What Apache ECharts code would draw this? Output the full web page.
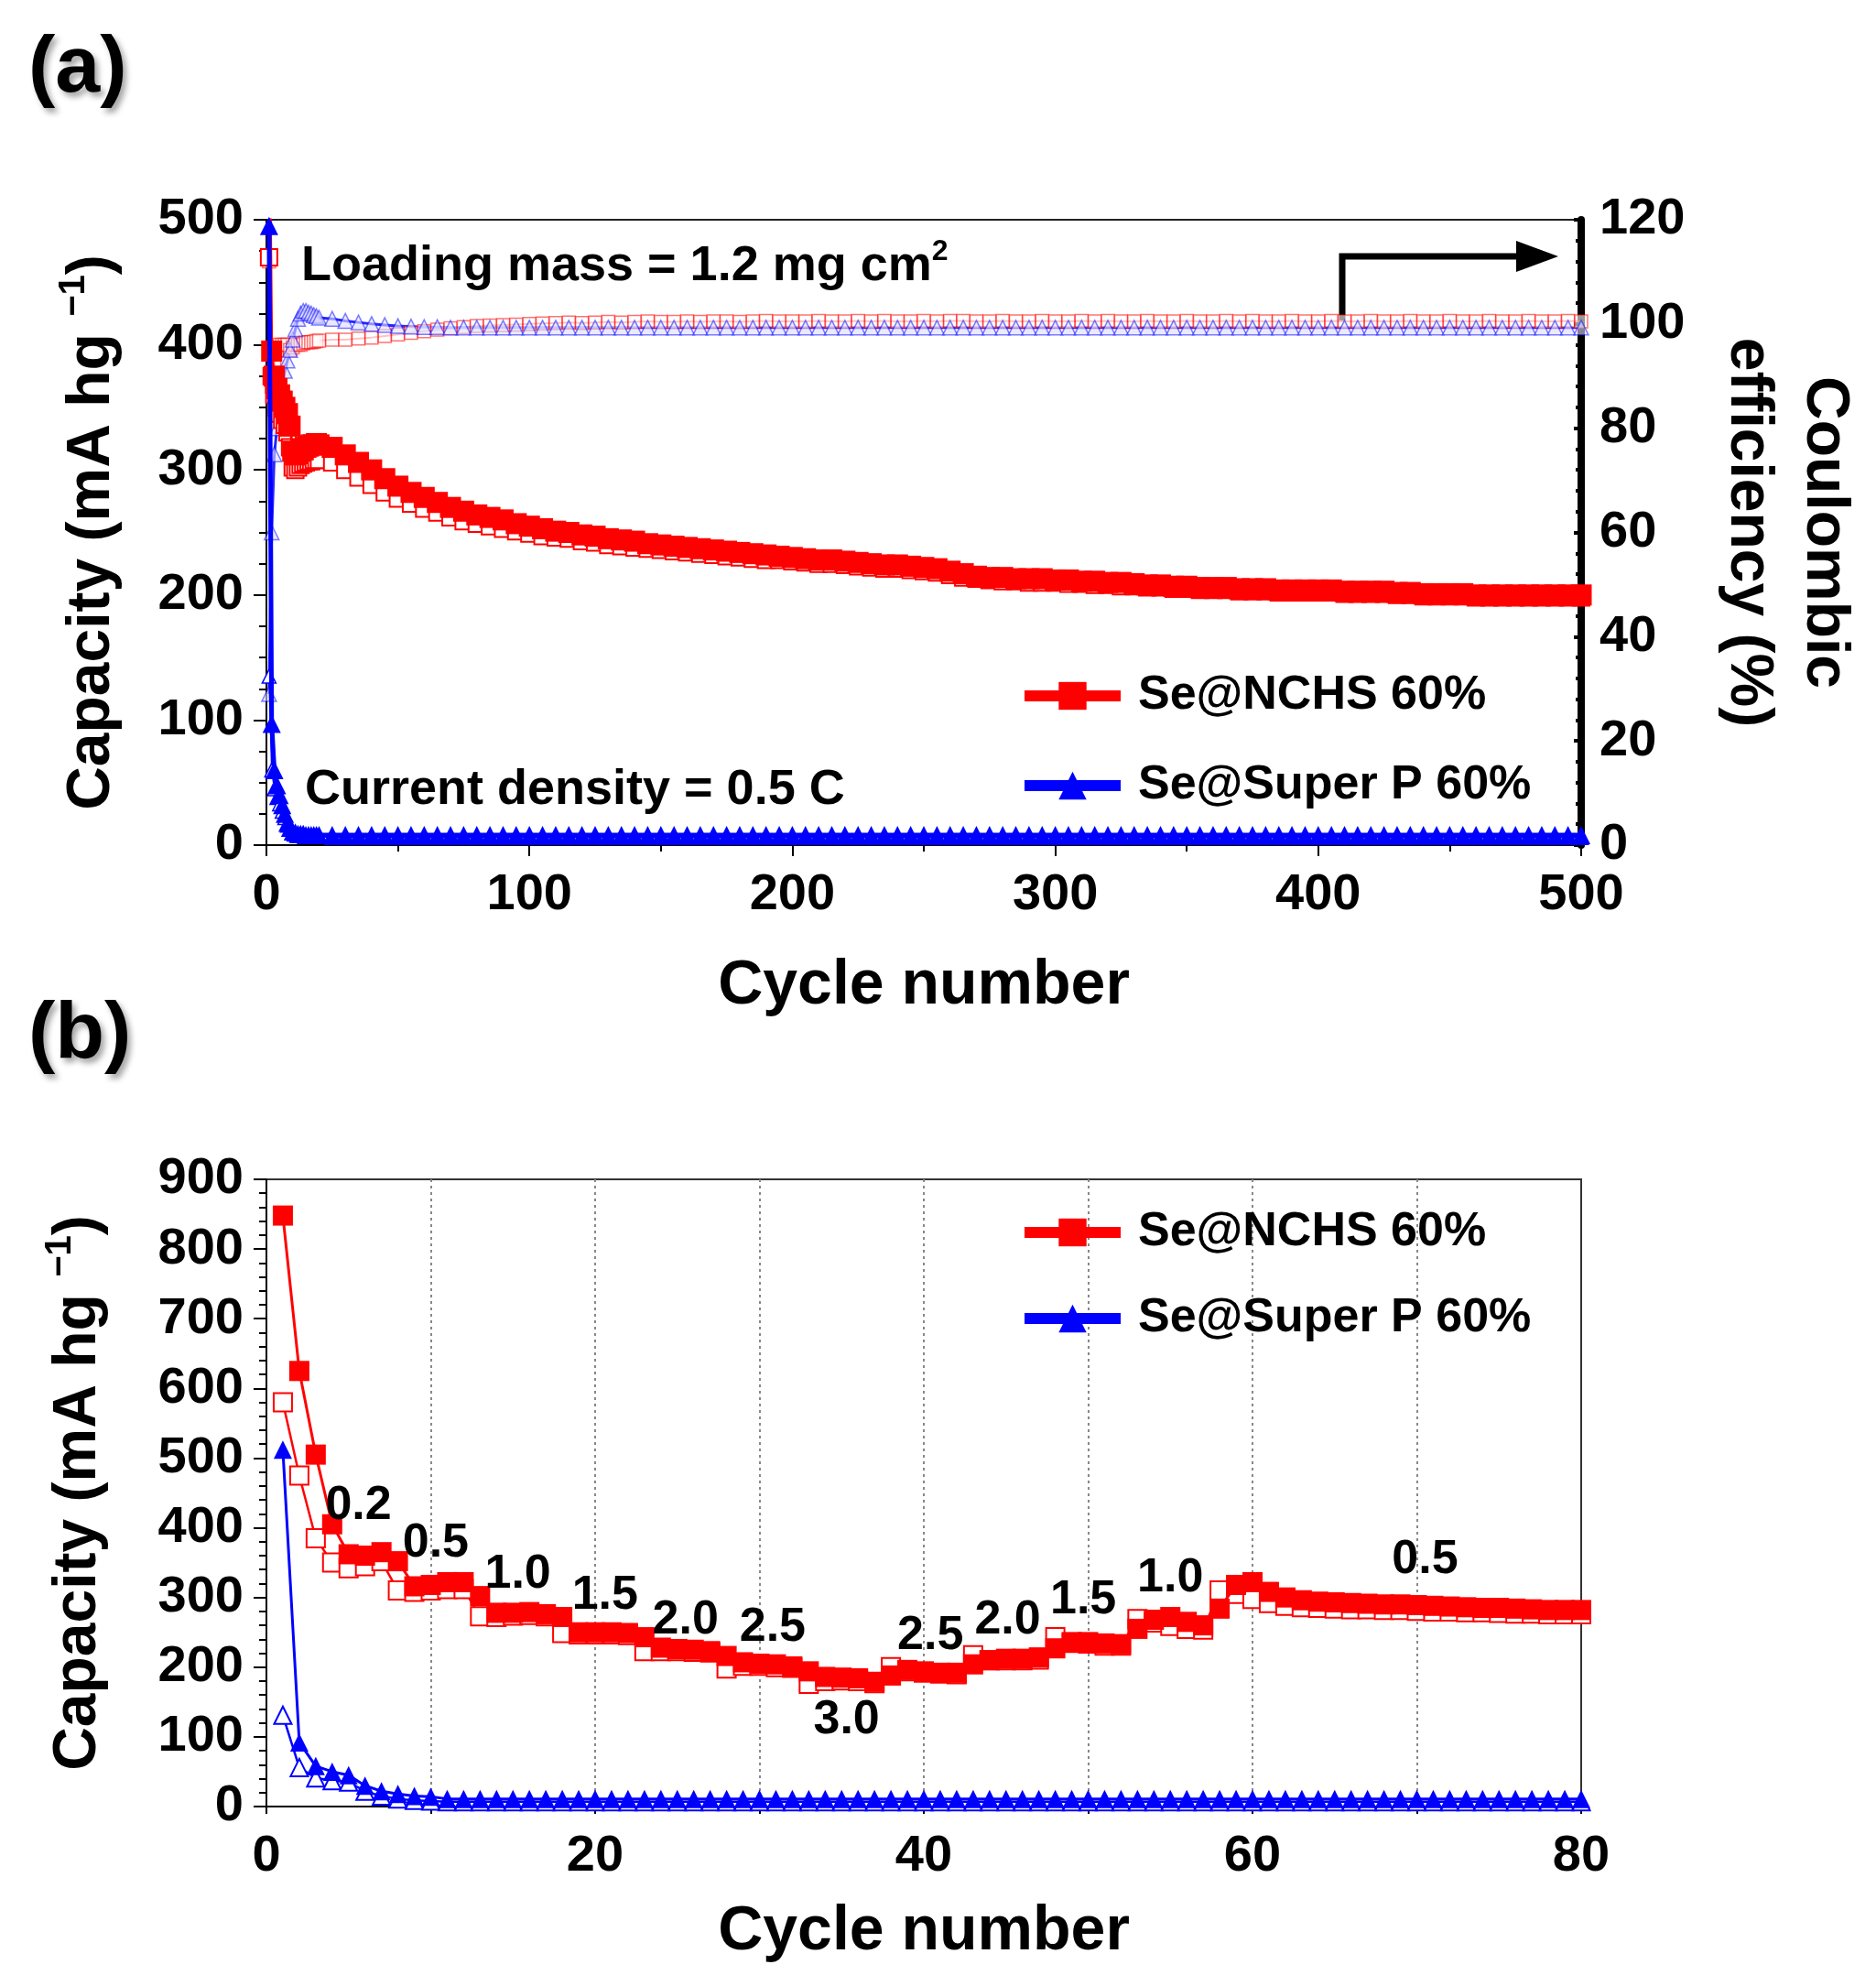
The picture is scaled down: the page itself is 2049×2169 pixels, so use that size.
<!DOCTYPE html>
<html>
<head>
<meta charset="utf-8">
<script src="https://cdn.jsdelivr.net/npm/echarts@6/dist/echarts.min.js"></script>
<style>
  html, body { margin: 0; padding: 0; background: #fff; }
  #container { width: 2049px; height: 2169px; }
</style>
</head>
<body>
<div id="container"></div>
<script>
// ---- panel (a): long cycling, 0.5 C ----
var cyclesA = [1,2,3,4,5,6,7,8,9,10,11,12,13,14,15,16,17,18,19,20,
  25,30,35,40,45,50,55,60,65,70,75,80,85,90,95,100,
  105,110,115,120,125,130,135,140,145,150,
  155,160,165,170,175,180,185,190,195,200,
  205,210,215,220,225,230,235,240,245,250,
  255,260,265,270,275,280,285,290,295,300,
  305,310,315,320,325,330,335,340,345,350,
  355,360,365,370,375,380,385,390,395,400,
  405,410,415,420,425,430,435,440,445,450,
  455,460,465,470,475,480,485,490,495,500];

var redDisA = [620,395,375,365,360,355,350,345,335,315,312,313,315,316,318,319,320,320,321,320,
  318,312,306,300,293,287,282,278,274,270,267,264,262,260,257,255,
  253,251,250,248,247,245,244,243,241,240,
  239,238,237,236,235,234,233,232,231,230,
  229,228,228,227,226,225,224,224,223,222,
  221,219,217,215,214,214,213,213,213,212,
  212,211,211,210,210,209,208,208,207,207,
  206,206,206,205,205,205,204,204,204,204,
  204,203,203,203,203,202,202,201,201,201,
  201,200,200,200,200,200,200,200,200,200];

var redChgA = [470,375,360,350,345,340,336,330,318,302,300,302,304,305,306,307,307,308,308,308,
  306,300,294,288,282,277,273,269,266,262,259,257,255,253,251,249,
  247,246,245,243,242,240,239,238,237,236,
  235,234,233,232,231,230,229,228,228,227,
  226,225,225,224,223,222,221,221,220,219,
  218,216,214,213,212,211,211,210,210,210,
  209,209,208,208,207,207,206,206,205,205,
  204,204,204,203,203,203,202,202,202,202,
  202,201,201,201,201,200,200,199,199,199,
  199,198,198,198,198,198,198,198,198,198];

var blueDisA = [495,97,60,48,40,32,25,18,14,11,10,9,9,9,8,8,8,8,8,8,
  8,8,8,8,8,8,8,8,8,8,8,8,8,8,8,8,
  8,8,8,8,8,8,8,8,8,8,
  8,8,8,8,8,8,8,8,8,8,
  8,8,8,8,8,8,8,8,8,8,
  8,8,8,8,8,8,8,8,8,8,
  8,8,8,8,8,8,8,8,8,8,
  8,8,8,8,8,8,8,8,8,8,
  8,8,8,8,8,8,8,8,8,8,
  8,8,8,8,8,8,8,8,8,8];

var blueChgA = [135,60,45,38,33,27,22,16,13,10,9,8,8,8,7,7,7,7,7,7,
  6,6,6,6,6,6,6,6,6,6,6,6,6,6,6,6,
  6,6,6,6,6,6,6,6,6,6,
  6,6,6,6,6,6,6,6,6,6,
  6,6,6,6,6,6,6,6,6,6,
  6,6,6,6,6,6,6,6,6,6,
  6,6,6,6,6,6,6,6,6,6,
  6,6,6,6,6,6,6,6,6,6,
  6,6,6,6,6,6,6,6,6,6,
  6,6,6,6,6,6,6,6,6,6];

var redCEA = [112,88,92,95,96,96,96,96,95,95.5,96,96,96,96.3,96.5,96.5,96.5,96.6,96.7,96.8,
  97,97,97.2,97.4,97.7,98,98.3,98.6,98.9,99.2,99.4,99.6,99.7,99.8,99.9,100,
  100.1,100.2,100.3,100.2,100.3,100.4,100.3,100.4,100.5,100.4,
  100.4,100.5,100.4,100.5,100.5,100.4,100.5,100.6,100.5,100.5,
  100.5,100.6,100.5,100.5,100.6,100.5,100.6,100.5,100.5,100.6,
  100.5,100.6,100.6,100.5,100.5,100.6,100.5,100.5,100.6,100.5,
  100.5,100.6,100.5,100.6,100.5,100.5,100.6,100.5,100.5,100.6,
  100.5,100.5,100.6,100.5,100.6,100.5,100.5,100.6,100.5,100.5,
  100.6,100.5,100.5,100.6,100.5,100.5,100.6,100.5,100.5,100.6,
  100.5,100.5,100.6,100.5,100.5,100.6,100.5,100.5,100.6,100.5];

var blueCEA = [29,60,75,80,84,88,91,93,95,97,99,101,102,102.5,102.5,102.2,102,101.7,101.5,101.2,
  101,100.6,100.3,100,99.8,99.6,99.5,99.4,99.4,99.3,99.3,99.3,99.3,99.3,99.3,99.3,
  99.3,99.3,99.3,99.3,99.3,99.3,99.3,99.3,99.3,99.3,
  99.3,99.3,99.3,99.3,99.3,99.3,99.3,99.3,99.3,99.3,
  99.3,99.3,99.3,99.3,99.3,99.3,99.3,99.3,99.3,99.3,
  99.3,99.3,99.3,99.3,99.3,99.3,99.3,99.3,99.3,99.3,
  99.3,99.3,99.3,99.3,99.3,99.3,99.3,99.3,99.3,99.3,
  99.3,99.3,99.3,99.3,99.3,99.3,99.3,99.3,99.3,99.3,
  99.3,99.3,99.3,99.3,99.3,99.3,99.3,99.3,99.3,99.3,
  99.3,99.3,99.3,99.3,99.3,99.3,99.3,99.3,99.3,99.3];

// ---- panel (b): rate capability ----
var cyclesB = [1,2,3,4,5,6,7,8,9,10,11,12,13,14,15,16,17,18,19,20,
  21,22,23,24,25,26,27,28,29,30,31,32,33,34,35,36,37,38,39,40,
  41,42,43,44,45,46,47,48,49,50,51,52,53,54,55,56,57,58,59,60,
  61,62,63,64,65,66,67,68,69,70,71,72,73,74,75,76,77,78,79,80];

var redDisB = [848,625,505,405,362,360,365,352,316,318,322,322,302,278,278,279,276,272,250,250,
  250,249,243,228,226,225,223,216,207,205,204,201,194,186,185,184,179,188,196,194,
  192,192,204,210,212,212,214,227,236,236,234,233,255,268,272,265,260,284,318,322,
  308,300,296,294,293,292,291,290,290,289,288,287,286,285,285,284,283,282,282,282];

var redChgB = [580,475,385,350,342,345,352,310,308,310,312,312,273,272,274,275,273,249,247,247,
  247,246,223,223,223,222,221,198,202,202,200,199,176,180,181,180,177,200,194,192,
  191,190,217,210,210,210,211,243,235,234,231,231,269,264,259,255,254,310,305,298,
  292,288,286,285,284,283,283,282,282,281,280,280,279,279,278,277,277,276,276,276];

var blueDisB = [512,92,58,50,45,30,22,18,15,14,11,11,11,11,11,11,11,11,11,11,
  11,11,11,11,11,11,11,11,11,11,11,11,11,11,11,11,11,11,11,11,
  11,11,11,11,11,11,11,11,11,11,11,11,11,11,11,11,11,11,11,11,
  11,11,11,11,11,11,11,11,11,11,11,11,11,11,11,11,11,11,11,11];

var blueChgB = [131,56,41,37,35,22,15,11,9,8,7,7,7,7,7,7,7,7,7,7,
  7,7,7,7,7,7,7,7,7,7,7,7,7,7,7,7,7,7,7,7,
  7,7,7,7,7,7,7,7,7,7,7,7,7,7,7,7,7,7,7,7,
  7,7,7,7,7,7,7,7,7,7,7,7,7,7,7,7,7,7,7,7];

// C-rate annotations: [cycle, capacity, text]
var rateLabels = [
  [5.6, 432, '0.2'], [10.3, 378, '0.5'], [15.3, 333, '1.0'], [20.6, 303, '1.5'],
  [25.5, 267, '2.0'], [30.8, 257, '2.5'], [35.3, 124, '3.0'], [40.4, 245, '2.5'],
  [45.1, 267, '2.0'], [49.7, 296, '1.5'], [55.0, 328, '1.0'], [70.5, 354, '0.5']
];

var NCHS = 'Se@NCHS 60%';
var SUPERP = 'Se@Super P 60%';
var FONT = '"Liberation Sans", Arial, Helvetica, sans-serif';
var RED = '#ff0000';
var BLUE = '#0000ff';

function pairs(xs, ys) {
  return xs.map(function (x, i) { return [x, ys[i]]; });
}

function tickLabel(extra) {
  var s = { color: '#000', fontSize: 56, fontWeight: 'bold', fontFamily: FONT };
  for (var k in extra) s[k] = extra[k];
  return s;
}

var capName = '{a|Capacity (mA hg }{s|\u22121}{a|)}';
var capRich = {
  a: { fontSize: 66, fontWeight: 'bold', fontFamily: FONT, color: '#000', lineHeight: 80 },
  s: { fontSize: 40, fontWeight: 'bold', fontFamily: FONT, color: '#000', verticalAlign: 'top', lineHeight: 80 }
};

var dom = document.getElementById('container');
var myChart = echarts.init(dom, null, { renderer: 'canvas' });

var legendText = { fontSize: 52, fontWeight: 'bold', fontFamily: FONT, color: '#000', lineHeight: 56, padding: [0, 0, 0, 14] };

var option = {
  backgroundColor: '#ffffff',
  animation: false,
  textStyle: { fontFamily: FONT },
  grid: [
    { left: 291, top: 240, width: 1436, height: 683, show: true, borderColor: '#222', borderWidth: 2,
      containLabel: false, outerBoundsMode: 'none' },
    { left: 291, top: 1288, width: 1436, height: 685, show: true, borderColor: '#333', borderWidth: 2,
      containLabel: false, outerBoundsMode: 'none' }
  ],
  xAxis: [
    {
      gridIndex: 0, type: 'value', min: 0, max: 500, interval: 100,
      name: 'Cycle number', nameLocation: 'middle', nameGap: 120,
      nameTextStyle: { fontSize: 68, fontWeight: 'bold', fontFamily: FONT, color: '#000' },
      axisLine: { show: true, onZero: false, lineStyle: { color: '#000', width: 2 } },
      axisTick: { show: true, length: 12, lineStyle: { color: '#000', width: 2 } },
      minorTick: { show: true, splitNumber: 2, length: 7, lineStyle: { color: '#000', width: 2 } },
      axisLabel: tickLabel({ margin: 27 }),
      splitLine: { show: false }
    },
    {
      gridIndex: 1, type: 'value', min: 0, max: 80, interval: 10,
      name: 'Cycle number', nameLocation: 'middle', nameGap: 103,
      nameTextStyle: { fontSize: 68, fontWeight: 'bold', fontFamily: FONT, color: '#000' },
      axisLine: { show: true, onZero: false, lineStyle: { color: '#000', width: 2 } },
      axisTick: { show: true, length: 8, lineStyle: { color: '#000', width: 2 } },
      axisLabel: tickLabel({ margin: 27, formatter: function (v) { return v % 20 === 0 ? v : ''; } }),
      splitLine: { show: true, showMinLine: false, showMaxLine: false,
        lineStyle: { color: '#888', width: 2, type: [3, 4] } }
    }
  ],
  yAxis: [
    {
      gridIndex: 0, type: 'value', min: 0, max: 500, interval: 100,
      name: capName, nameLocation: 'middle', nameRotate: 90, nameGap: 150,
      nameTextStyle: { rich: capRich },
      axisLine: { show: true, onZero: false, lineStyle: { color: '#000', width: 2 } },
      axisTick: { show: true, length: 14, lineStyle: { color: '#000', width: 2 } },
      minorTick: { show: true, splitNumber: 4, length: 8, lineStyle: { color: '#000', width: 2 } },
      axisLabel: tickLabel({ margin: 25 }),
      splitLine: { show: false }
    },
    {
      gridIndex: 0, type: 'value', position: 'right', min: 0, max: 120, interval: 20,
      name: 'Coulombic\nefficiency (%)', nameLocation: 'middle', nameRotate: -90, nameGap: 141,
      nameTextStyle: { fontSize: 66, fontWeight: 'bold', fontFamily: FONT, color: '#000', lineHeight: 83, align: 'center' },
      axisLine: { show: true, onZero: false, lineStyle: { color: '#000', width: 8 } },
      axisTick: { show: true, inside: true, length: 8, lineStyle: { color: '#000', width: 4 } },
      minorTick: { show: true, splitNumber: 5, length: 6, lineStyle: { color: '#000', width: 4 } },
      axisLabel: tickLabel({ margin: 20 }),
      splitLine: { show: false }
    },
    {
      gridIndex: 1, type: 'value', min: 0, max: 900, interval: 100,
      name: capName, nameLocation: 'middle', nameRotate: 90, nameGap: 165,
      nameTextStyle: { rich: capRich },
      axisLine: { show: true, onZero: false, lineStyle: { color: '#000', width: 2 } },
      axisTick: { show: true, length: 14, lineStyle: { color: '#000', width: 2 } },
      minorTick: { show: true, splitNumber: 5, length: 8, lineStyle: { color: '#000', width: 2 } },
      axisLabel: tickLabel({ margin: 25 }),
      splitLine: { show: false }
    }
  ],
  legend: [
    {
      data: [NCHS, SUPERP], orient: 'vertical', left: 1108, top: 727,
      itemWidth: 105, itemHeight: 38, itemGap: 42,
      lineStyle: { width: 12 },
      textStyle: legendText,
      selectedMode: false
    },
    {
      data: [NCHS, SUPERP], orient: 'vertical', left: 1108, top: 1313,
      itemWidth: 105, itemHeight: 38, itemGap: 38,
      lineStyle: { width: 12 },
      textStyle: legendText,
      selectedMode: false
    }
  ],
  graphic: [
    { type: 'text', left: 31, top: 32,
      style: { text: '(a)', fill: '#000', font: 'bold 88px ' + FONT,
        textShadowColor: 'rgba(0,0,0,0.35)', textShadowBlur: 6, textShadowOffsetX: 4, textShadowOffsetY: 5 } },
    { type: 'text', left: 31, top: 1087,
      style: { text: '(b)', fill: '#000', font: 'bold 88px ' + FONT,
        textShadowColor: 'rgba(0,0,0,0.35)', textShadowBlur: 6, textShadowOffsetX: 4, textShadowOffsetY: 5 } },
    { type: 'text', left: 329, top: 259,
      style: { text: '{n|Loading mass = 1.2 mg cm}{s|2}', fill: '#000',
        rich: {
          n: { fontSize: 54, fontWeight: 'bold', fontFamily: FONT, lineHeight: 64 },
          s: { fontSize: 32, fontWeight: 'bold', fontFamily: FONT, verticalAlign: 'top', lineHeight: 64 }
        } } },
    { type: 'text', left: 333, top: 836,
      style: { text: 'Current density = 0.5 C', fill: '#000', font: 'bold 54px ' + FONT } },
    { type: 'polyline', shape: { points: [[1466, 350], [1466, 280], [1668, 280]] },
      style: { stroke: '#000', lineWidth: 7, fill: null } },
    { type: 'polygon', shape: { points: [[1656, 263], [1702, 280], [1656, 297]] },
      style: { fill: '#000' } }
  ],
  series: [
    // (a) capacity (filled first so the legend icons come from it)
    { name: NCHS, type: 'line', xAxisIndex: 0, yAxisIndex: 0, data: pairs(cyclesA, redDisA),
      symbol: 'rect', symbolSize: 23, showSymbol: true,
      itemStyle: { color: RED }, lineStyle: { color: RED, width: 3 }, z: 4 },
    { name: NCHS, type: 'line', xAxisIndex: 0, yAxisIndex: 0, data: pairs(cyclesA, redChgA),
      symbol: 'rect', symbolSize: 18, showSymbol: true,
      itemStyle: { color: '#fff', borderColor: RED, borderWidth: 2 }, lineStyle: { color: RED, width: 1.5 }, z: 3 },
    { name: SUPERP, type: 'line', xAxisIndex: 0, yAxisIndex: 0, data: pairs(cyclesA, blueDisA),
      symbol: 'triangle', symbolSize: 20, showSymbol: true,
      itemStyle: { color: BLUE }, lineStyle: { color: BLUE, width: 5 }, z: 5 },
    { name: SUPERP, type: 'line', xAxisIndex: 0, yAxisIndex: 0, data: pairs(cyclesA, blueChgA),
      symbol: 'triangle', symbolSize: 15, showSymbol: true,
      itemStyle: { color: '#fff', borderColor: BLUE, borderWidth: 1.5 }, lineStyle: { color: BLUE, width: 1.5 }, z: 3 },
    // (a) coulombic efficiency
    { name: NCHS, type: 'line', xAxisIndex: 0, yAxisIndex: 1, data: pairs(cyclesA, redCEA),
      symbol: 'rect', symbolSize: 14, showSymbol: true,
      itemStyle: { color: 'rgba(255,255,255,0.6)', borderColor: 'rgba(255,0,0,0.55)', borderWidth: 1.5 },
      lineStyle: { color: 'rgba(255,0,0,0.6)', width: 2 }, z: 2 },
    { name: SUPERP, type: 'line', xAxisIndex: 0, yAxisIndex: 1, data: pairs(cyclesA, blueCEA),
      symbol: 'triangle', symbolSize: 16, showSymbol: true,
      itemStyle: { color: 'rgba(220,220,255,0.6)', borderColor: 'rgba(0,0,255,0.5)', borderWidth: 1.5 },
      lineStyle: { color: 'rgba(0,0,255,0.85)', width: 3 }, z: 2 },
    // (b) rate capability
    { name: NCHS, type: 'line', xAxisIndex: 1, yAxisIndex: 2, data: pairs(cyclesB, redDisB),
      symbol: 'rect', symbolSize: 22, showSymbol: true,
      itemStyle: { color: RED }, lineStyle: { color: RED, width: 3 }, z: 4 },
    { name: NCHS, type: 'line', xAxisIndex: 1, yAxisIndex: 2, data: pairs(cyclesB, redChgB),
      symbol: 'rect', symbolSize: 20, showSymbol: true,
      itemStyle: { color: '#fff', borderColor: RED, borderWidth: 2 }, lineStyle: { color: RED, width: 2.5 }, z: 3 },
    { name: SUPERP, type: 'line', xAxisIndex: 1, yAxisIndex: 2, data: pairs(cyclesB, blueDisB),
      symbol: 'triangle', symbolSize: 20, showSymbol: true,
      itemStyle: { color: BLUE }, lineStyle: { color: BLUE, width: 3 }, z: 5 },
    { name: SUPERP, type: 'line', xAxisIndex: 1, yAxisIndex: 2, data: pairs(cyclesB, blueChgB),
      symbol: 'triangle', symbolSize: 19, showSymbol: true,
      itemStyle: { color: '#fff', borderColor: BLUE, borderWidth: 2 }, lineStyle: { color: BLUE, width: 2.5 }, z: 3 },
    { name: 'rates', type: 'scatter', xAxisIndex: 1, yAxisIndex: 2, data: rateLabels,
      symbolSize: 1, silent: true, z: 6,
      itemStyle: { opacity: 1, color: 'rgba(0,0,0,0)' },
      label: { show: true, position: 'inside', formatter: function (p) { return p.data[2]; },
        fontSize: 52, fontWeight: 'bold', fontFamily: FONT, color: '#000',
        textBorderWidth: 0, textBorderColor: 'transparent', opacity: 1 } }
  ]
};

if (option && typeof option === 'object') {
  myChart.setOption(option, true);
}
</script>
</body>
</html>
